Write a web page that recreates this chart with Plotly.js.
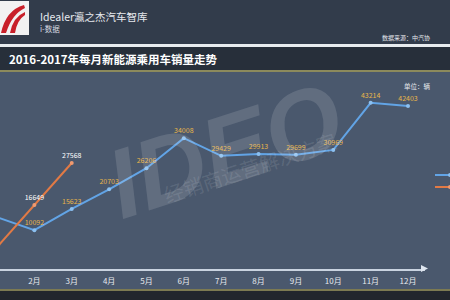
<!DOCTYPE html>
<html><head><meta charset="utf-8">
<script src="https://cdn.plot.ly/plotly-3.0.1.min.js"></script>
<style>html,body{margin:0;padding:0;background:#4a586d;}#c{width:450px;height:300px;}</style>
</head><body><div id="c"></div>
<script>
var months = ["1月","2月","3月","4月","5月","6月","7月","8月","9月","10月","11月","12月"];
var monthIdx = [1,2,3,4,5,6,7,8,9,10,11,12];
var sales2016 = [13448,10092,15623,20703,26206,34008,29429,29913,29699,30969,43214,42403];
var idx2017 = [1,2,3];
var sales2017 = [5682,16649,27568];
var seriesNames = ["2016年","2017年"];
var titleText = "2016-2017年每月新能源乘用车销量走势";
var brandText = "Idealer瀛之杰汽车智库";
var subBrandText = "i-数据";
var sourceText = "数据来源：中汽协";
var unitText = "单位：辆";

var W = 425, T = 72, B = 269;
function px(x){return x/W;}
function py(y){return (B-y)/(B-T);}

var font = "'Noto Sans CJK SC','Noto Sans',sans-serif";

var traces = [
  {x: monthIdx, y: sales2016, name: seriesNames[0], type:'scatter', mode:'lines+markers+text',
   line:{color:'#62a4e6', width:2}, marker:{size:4, color:'#8cc0f0'},
   text: sales2016.map(String), textposition:'top center', legend:'legend',
   textfont:{size:7, color:'#e8b64a', family:font}, cliponaxis:false},
  {x: idx2017, y: sales2017, name: seriesNames[1], type:'scatter', mode:'lines+markers+text',
   line:{color:'#e27a45', width:2}, marker:{size:4, color:'#f09a70'},
   text: sales2017.map(String), textposition:'top center', legend:'legend2',
   textfont:{size:7, color:'#ffffff', family:font}, cliponaxis:false}
];

var shapes = [
  {type:'rect', xref:'paper', yref:'paper', x0:px(-5), x1:px(455), y0:py(44), y1:py(-5), fillcolor:'#323c4b', line:{width:0}, layer:'below'},
  {type:'rect', xref:'paper', yref:'paper', x0:px(-5), x1:px(455), y0:py(47), y1:py(44), fillcolor:'#e8ecef', line:{width:0}, layer:'below'},
  {type:'rect', xref:'paper', yref:'paper', x0:px(-5), x1:px(455), y0:py(70), y1:py(47), fillcolor:'#272f3a', line:{width:0}, layer:'below'},
  {type:'rect', xref:'paper', yref:'paper', x0:px(-5), x1:px(455), y0:py(72), y1:py(70), fillcolor:'#8c8a5c', line:{width:0}, layer:'below'},
  {type:'rect', xref:'paper', yref:'paper', x0:px(-5), x1:px(455), y0:py(305), y1:py(291), fillcolor:'#22262d', line:{width:0}, layer:'below'},
  {type:'rect', xref:'paper', yref:'paper', x0:px(-5), x1:px(455), y0:py(291), y1:py(289), fillcolor:'#7c7a52', line:{width:0}, layer:'below'},
  {type:'rect', xref:'paper', yref:'paper', x0:px(-2), x1:px(29), y0:py(35), y1:py(1), fillcolor:'#f2f2f2', line:{width:0}},
  {type:'path', xref:'paper', yref:'paper',
   path:'M '+px(1)+','+py(33)+' Q '+px(6)+','+py(10)+' '+px(24)+','+py(5)+' L '+px(25)+','+py(8)+' Q '+px(12)+','+py(14)+' '+px(6)+','+py(33)+' Z',
   fillcolor:'#c8202a', line:{width:0}},
  {type:'path', xref:'paper', yref:'paper',
   path:'M '+px(10)+','+py(33)+' Q '+px(13)+','+py(17)+' '+px(25)+','+py(12)+' L '+px(25)+','+py(15)+' Q '+px(17)+','+py(20)+' '+px(15)+','+py(33)+' Z',
   fillcolor:'#c8202a', line:{width:0}},
  {type:'path', xref:'paper', yref:'paper',
   path:'M '+px(421)+','+py(265)+' L '+px(428)+','+py(268.5)+' L '+px(421)+','+py(272)+' Z',
   fillcolor:'#dfe6f0', line:{width:0}}
];

var annotations = [
  {text:'IDEO', xref:'paper', yref:'paper', x:px(225), y:py(150), showarrow:false, textangle:-18,
   font:{size:98, color:'rgba(255,255,255,0.13)', family:"'Liberation Sans',sans-serif", weight:700, style:'italic'}},
  {text:'经销商运营解决方案', xref:'paper', yref:'paper', x:px(250), y:py(212), showarrow:false, textangle:-18,
   font:{size:20, color:'rgba(255,255,255,0.11)', family:font}},
  {text:brandText, xref:'paper', yref:'paper', x:px(38), y:py(16), xanchor:'left', yanchor:'middle', showarrow:false,
   font:{size:10.5, color:'#e6e9ee', family:font}},
  {text:subBrandText, xref:'paper', yref:'paper', x:px(38), y:py(29), xanchor:'left', yanchor:'middle', showarrow:false,
   font:{size:7.5, color:'#d6dae0', family:font}},
  {text:sourceText, xref:'paper', yref:'paper', x:px(380), y:py(38), xanchor:'left', yanchor:'middle', showarrow:false,
   font:{size:6, color:'#e6e9ee', family:font}},
  {text:'<b>'+titleText+'</b>', xref:'paper', yref:'paper', x:px(7), y:py(58.5), xanchor:'left', yanchor:'middle', showarrow:false,
   font:{size:11.5, color:'#ffffff', family:font}},
  {text:unitText, xref:'paper', yref:'paper', x:px(402), y:py(86), xanchor:'left', yanchor:'middle', showarrow:false,
   font:{size:6.5, color:'#e6e9ee', family:font}}
];

var legFont = {size:7, color:'#e6e9ee', family:font};
var layout = {
  width:450, height:300,
  margin:{l:0, r:25, t:T, b:300-B, autoexpand:false},
  paper_bgcolor:'#4a586d', plot_bgcolor:'rgba(0,0,0,0)',
  showlegend:true,
  legend:{x:px(430), y:py(175), xanchor:'left', yanchor:'middle', font:legFont, bgcolor:'rgba(0,0,0,0)'},
  legend2:{x:px(430), y:py(187), xanchor:'left', yanchor:'middle', font:legFont, bgcolor:'rgba(0,0,0,0)'},
  xaxis:{range:[1.08,12.455], tickvals:monthIdx, ticktext:months, showgrid:false, zeroline:false,
         showline:true, linecolor:'#c9d3e0', linewidth:2, ticks:'', ticklabelstandoff:3,
         tickfont:{size:8, color:'#e6e9ee', family:font}, fixedrange:true},
  yaxis:{range:[0,(B-T)*260], visible:false, fixedrange:true},
  shapes:shapes, annotations:annotations
};
Plotly.newPlot('c', traces, layout, {displayModeBar:false, staticPlot:true});
</script></body></html>
